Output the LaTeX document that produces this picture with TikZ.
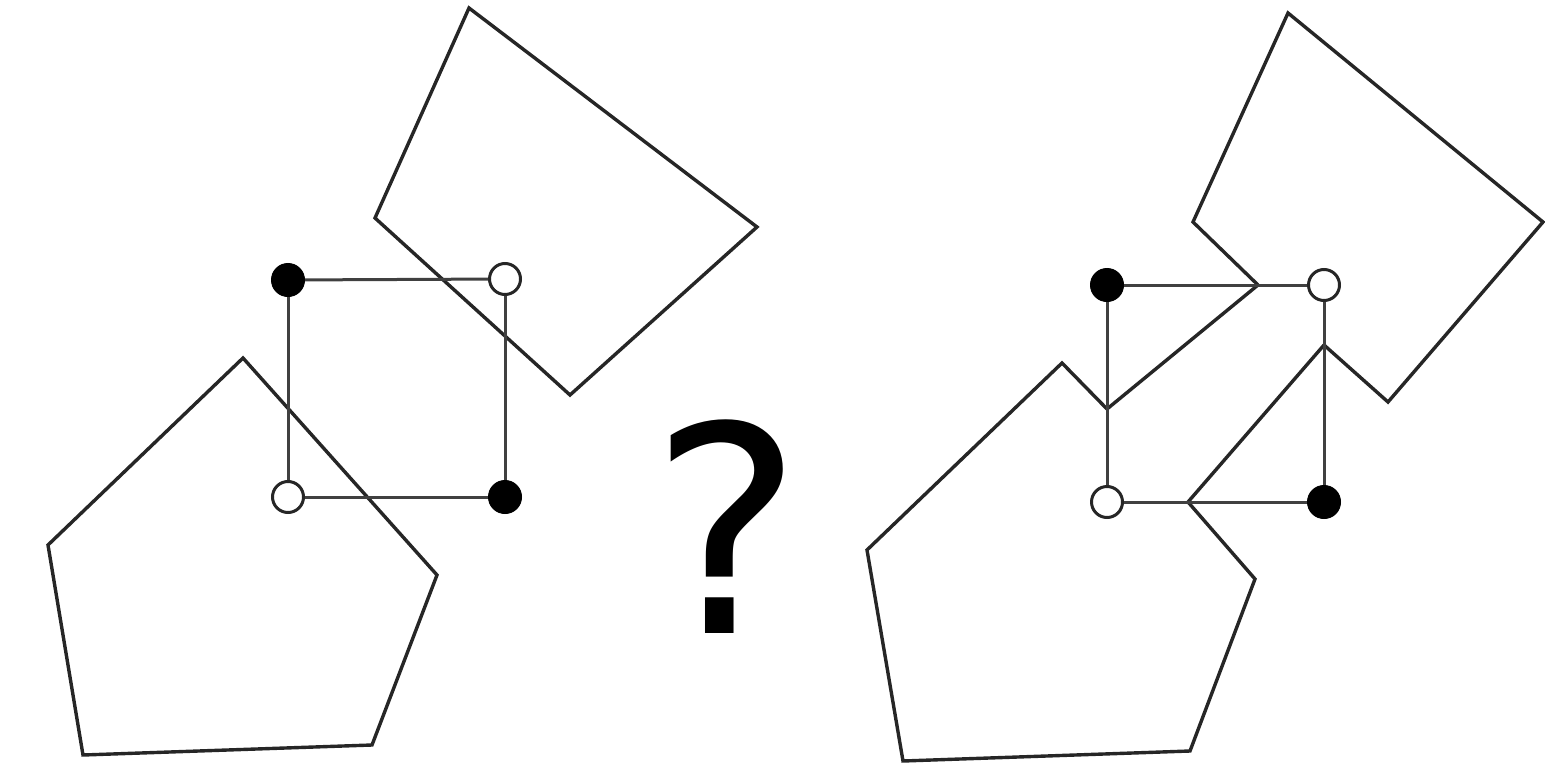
\documentclass[tikz,border=0pt]{standalone}
\usepackage{fontspec}
\newfontfamily\qfont{DejaVu Sans}
\tikzset{
  shapeline/.style={draw=black!85, line width=3.4pt, line join=miter},
  edgeline/.style={draw=black!75, line width=3pt},
  fulldot/.style={circle, fill=black, draw=black, line width=1pt, minimum size=33pt, inner sep=0pt},
  emptydot/.style={circle, fill=white, draw=black!85, line width=3pt, minimum size=31pt, inner sep=0pt},
}
\begin{document}
\begin{tikzpicture}[x=1pt,y=-1pt]
\useasboundingbox (0,0) rectangle (1545,768);

% ---------- left figure ----------
\draw[shapeline] (469,8) -- (757,227) -- (570,395) -- (375,218) -- cycle;
\draw[shapeline] (243,358) -- (437,575) -- (372,745) -- (83,755) -- (48,545) -- cycle;

\node[fulldot]  (la) at (288,280) {};
\node[emptydot] (lb) at (505,279) {};
\node[emptydot] (lc) at (288,497) {};
\node[fulldot]  (ld) at (505,497) {};
\draw[edgeline] (la) -- (lb);
\draw[edgeline] (lb) -- (ld);
\draw[edgeline] (la) -- (lc);
\draw[edgeline] (lc) -- (ld);

% ---------- question mark ----------
\node[anchor=base, inner sep=0pt] (q) at (727,633) {\qfont\fontsize{288}{288}\selectfont ?};

% ---------- right figure ----------
\coordinate (jt) at (1258,285);
\coordinate (jl) at (1107,409);
\coordinate (jr) at (1324,345);
\coordinate (jb) at (1188,502);

\draw[shapeline] (jt) -- (1193,222) -- (1288,13) -- (1543,222) -- (1388,402) -- (jr);
\draw[shapeline] (jt) -- (jl);
\draw[shapeline] (jr) -- (jb);
\draw[shapeline] (jl) -- (1062,363) -- (867,550) -- (903,761) -- (1190,751) -- (1255,579) -- (jb);

\node[fulldot]  (ra) at (1107,285) {};
\node[emptydot] (rb) at (1324,285) {};
\node[emptydot] (rc) at (1107,502) {};
\node[fulldot]  (rd) at (1324,502) {};
\draw[edgeline] (ra) -- (rb);
\draw[edgeline] (rb) -- (rd);
\draw[edgeline] (ra) -- (rc);
\draw[edgeline] (rc) -- (rd);
\end{tikzpicture}
\end{document}
